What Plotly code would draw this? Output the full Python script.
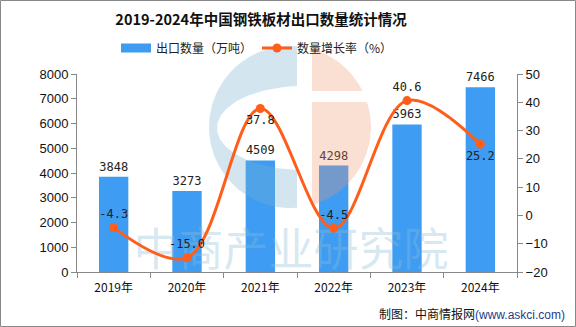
import numpy as np
import plotly.graph_objects as go

years = ["2019年", "2020年", "2021年", "2022年", "2023年", "2024年"]
export_qty = [3848, 3273, 4509, 4298, 5963, 7466]
growth = [-4.3, -15.0, 37.8, -4.5, 40.6, 25.2]
growth_labels = ["-4.3", "-15.0", "37.8", "-4.5", "40.6", "25.2"]
growth_pos = ["top center", "top center", "bottom center", "top center", "top center", "bottom center"]

W, H = 576, 327
L, R, T, B = 77, 59, 74, 55
pw, ph = W - L - R, H - T - B
n = len(years)
xs = list(range(n))
Y1MAX = 8000

# pixel helpers (decoration only)
def px(x):
    return (x - L) / pw

def py(y):
    return (H - B - y) / ph

def dx(x):  # pixel -> x data (numeric category index)
    return (x - L) / pw * n - 0.5

def dy(y):  # pixel -> left-axis data
    return Y1MAX * (H - B - y) / ph

# ---- logo geometry (pixels) ----
CX, CY, RR = 290.0, 127.0, 81.0
XB_SPLIT, XP_SPLIT = 297.0, 312.0
ECX, ECY, ERX, ERY = 303.0, 128.0, 86.0, 42.0

def c_shape():
    a0 = np.arccos((XB_SPLIT - CX) / RR)
    ang = np.linspace(-a0, -(2 * np.pi - a0), 80)
    ox = CX + RR * np.cos(ang)
    oy = CY + RR * np.sin(ang)
    e0 = np.arccos((XB_SPLIT - ECX) / ERX)
    ang2 = np.linspace(e0, 2 * np.pi - e0, 80)
    ix = ECX + ERX * np.cos(ang2)
    iy = ECY + ERY * np.sin(ang2)
    return np.concatenate([ox, ix, [ox[0]]]), np.concatenate([oy, iy, [oy[0]]])

def circ_rect(xa, xb, ya, yb):
    pts = []
    t = np.linspace(0, 2 * np.pi, 400)
    for a, b in zip(CX + RR * np.cos(t), CY + RR * np.sin(t)):
        if xa - 1e-6 <= a <= xb + 1e-6 and ya - 1e-6 <= b <= yb + 1e-6:
            pts.append((a, b))
    for s in np.linspace(0, 1, 60):
        for a, b in [(xa + (xb - xa) * s, ya), (xa + (xb - xa) * s, yb), (xa, ya + (yb - ya) * s), (xb, ya + (yb - ya) * s)]:
            if (a - CX) ** 2 + (b - CY) ** 2 <= RR ** 2 + 1e-6:
                pts.append((a, b))
    pts = np.array(pts)
    c = pts.mean(axis=0)
    order = np.argsort(np.arctan2(pts[:, 1] - c[1], pts[:, 0] - c[0]))
    pts = pts[order]
    pts = np.vstack([pts, pts[:1]])
    return pts[:, 0], pts[:, 1]

BLUE_LOGO = "rgba(120,180,210,0.33)"
PEACH_LOGO = "rgba(240,150,110,0.30)"

fig = go.Figure()

# legend proxy for bars (wide rectangle symbol)
fig.add_trace(go.Scatter(x=[None], y=[None], mode="lines", name="出口数量（万吨）",
                         line=dict(color="#3E9CF2", width=9)))

fig.add_trace(go.Bar(
    x=xs, y=export_qty, name="出口数量（万吨）", showlegend=False,
    marker=dict(color="#3E9CF2", line=dict(width=0)), width=0.4,
    text=[str(v) for v in export_qty], textposition="outside",
    textfont=dict(family="DejaVu Sans Mono, monospace", size=12, color="#222"),
    cliponaxis=False, hoverinfo="skip",
))

# logo overlay inside plot area (above bars, below line)
cx_, cy_ = c_shape()
fig.add_trace(go.Scatter(x=[dx(v) for v in cx_], y=[dy(v) for v in cy_], mode="lines",
                         fill="toself", fillcolor=BLUE_LOGO, line=dict(width=0),
                         showlegend=False, hoverinfo="skip"))
for (ya, yb) in [(30, 91), (102, 230)]:
    rx_, ry_ = circ_rect(XP_SPLIT, 400, ya, yb)
    fig.add_trace(go.Scatter(x=[dx(v) for v in rx_], y=[dy(v) for v in ry_], mode="lines",
                             fill="toself", fillcolor=PEACH_LOGO, line=dict(width=0),
                             showlegend=False, hoverinfo="skip"))

# watermark text
fig.add_trace(go.Scatter(x=[dx(291)], y=[dy(255)], mode="text", text=["中商产业研究院"],
                         textfont=dict(family="Noto Sans CJK SC", size=45, color="rgba(140,190,215,0.35)"),
                         showlegend=False, hoverinfo="skip", cliponaxis=False))

fig.add_trace(go.Scatter(
    x=xs, y=growth, name="数量增长率（%）", yaxis="y2",
    mode="lines+markers+text",
    line=dict(color="#FF5E1A", width=3, shape="spline", smoothing=1.0),
    marker=dict(color="#FF5E1A", size=9),
    text=growth_labels, textposition=growth_pos,
    textfont=dict(family="DejaVu Sans Mono, monospace", size=12, color="#222"),
    cliponaxis=False,
))

fig.update_layout(
    width=W, height=H,
    margin=dict(l=L, r=R, t=T, b=B),
    paper_bgcolor="white", plot_bgcolor="rgba(0,0,0,0)",
    title=dict(text="<b>2019-2024年中国钢铁板材出口数量统计情况</b>",
               xref="paper", x=px(261), xanchor="center", y=1 - 20 / H, yanchor="middle",
               font=dict(family="Noto Sans CJK SC", size=14.5, color="#111")),
    legend=dict(orientation="h", x=px(257), xanchor="center", y=1 + 26 / ph, yanchor="middle",
                font=dict(family="Noto Sans CJK SC", size=12, color="#222"),
                itemwidth=30, bgcolor="rgba(0,0,0,0)", traceorder="normal"),
    showlegend=True,
    xaxis=dict(range=[-0.5, n - 0.5], tickvals=xs, ticktext=years, ticks="", showgrid=False,
               zeroline=False, showline=True, linecolor="#888", linewidth=1,
               ticklabelstandoff=5,
               minor=dict(ticks="outside", tick0=-0.5, dtick=1, ticklen=5, tickcolor="#888", showgrid=False),
               tickfont=dict(family="Noto Sans CJK SC", size=12, color="#111")),
    yaxis=dict(range=[0, Y1MAX], dtick=1000, showgrid=False, zeroline=False,
               showline=True, linecolor="#888", linewidth=1, ticks="outside", tickcolor="#888",
               ticklen=5, tickfont=dict(family="Liberation Sans", size=13, color="#111")),
    yaxis2=dict(range=[-20, 50], dtick=10, overlaying="y", side="right", showgrid=False,
                zeroline=False, showline=True, linecolor="#888", linewidth=1, ticks="outside",
                tickcolor="#888", ticklen=5,
                tickfont=dict(family="Liberation Sans", size=13, color="#111")),
    font=dict(family="Noto Sans CJK SC"),
)

# logo portion above the plot area (behind legend)
bx_, by_ = circ_rect(150, XB_SPLIT, 30, T)
fig.add_shape(type="path", xref="paper", yref="paper", layer="below",
              path="M " + " L ".join(f"{px(a):.5f},{py(b):.5f}" for a, b in zip(bx_, by_)) + " Z",
              fillcolor=BLUE_LOGO, line=dict(width=0))
qx_, qy_ = circ_rect(XP_SPLIT, 400, 30, T)
fig.add_shape(type="path", xref="paper", yref="paper", layer="below",
              path="M " + " L ".join(f"{px(a):.5f},{py(b):.5f}" for a, b in zip(qx_, qy_)) + " Z",
              fillcolor=PEACH_LOGO, line=dict(width=0))

# footer
fig.add_annotation(xref="paper", yref="paper", x=px(567), y=py(313), xanchor="right", yanchor="middle",
                   text="制图：中商情报网<span style='color:#1f3c88;font-family:Liberation Sans'>(www.askci.com)</span>",
                   showarrow=False, font=dict(family="Noto Sans CJK SC", size=12, color="#111"))

# border
fig.add_shape(type="rect", xref="paper", yref="paper",
              x0=px(0.5), x1=px(575.5), y0=py(0.5), y1=py(326.5),
              line=dict(color="#888", width=1), fillcolor="rgba(0,0,0,0)")

fig.write_html("out.html")
